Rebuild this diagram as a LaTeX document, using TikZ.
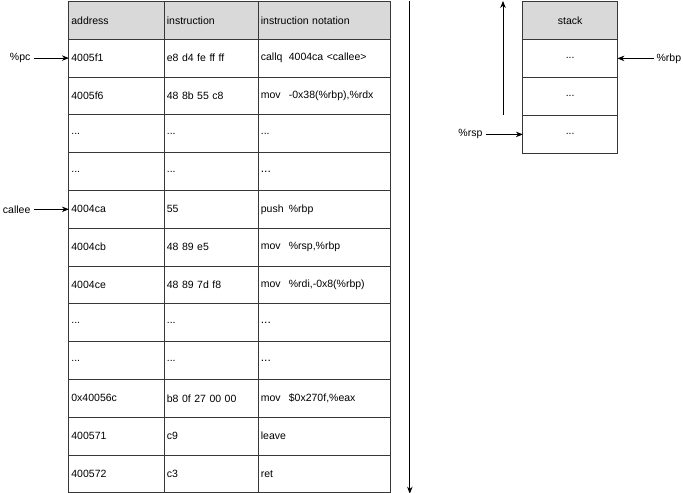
\documentclass[tikz,border=0pt]{standalone}
\usepackage{fontspec}
\setmainfont{Liberation Sans}
\usetikzlibrary{arrows.meta,positioning,matrix}
\definecolor{hdrgray}{RGB}{217,217,217}
\definecolor{gridline}{RGB}{55,55,55}
\newcommand{\asm}[2]{\makebox[28bp][l]{#1}#2}

\begin{document}
\begin{tikzpicture}[x=1bp, y=-1bp, font=\fontsize{10.5bp}{12bp}\selectfont,
		CellStyle/.style={draw=gridline, line width=0.9bp, minimum height=37.8bp, inner xsep=2.5bp, inner ysep=0pt, outer sep=0pt, align=left, anchor=center},
		ptr/.style={-{Stealth[length=7bp,width=5.5bp]}, line width=0.8bp},
		ampersand replacement=\&]
	\useasboundingbox (0,0) rectangle (683,493);
	\matrix (code) [matrix of nodes, nodes={CellStyle}, inner sep=0pt, line width=0.9bp, column sep=-\pgflinewidth, row sep=-\pgflinewidth,
		column 1/.style={nodes={text width=90.5bp}}, column 2/.style={nodes={text width=89bp}}, column 3/.style={nodes={text width=127.5bp}},
		row 1/.style={nodes={fill=hdrgray}}, anchor=north west] at (68,0.5) {%
		address \& instruction \& instruction notation\\
		4005f1 \& e8 d4 fe ff ff \& \asm{callq}{4004ca <callee>}\\
		4005f6 \& 48 8b 55 c8 \& \asm{mov}{-0x38(\%rbp),\%rdx}\\
		... \& ... \& ...\\
		... \& ... \& {\large ...}\\
		4004ca \& 55 \& \asm{push}{\%rbp}\\
		4004cb \& 48 89 e5 \& \asm{mov}{\%rsp,\%rbp}\\
		4004ce \& 48 89 7d f8 \& \asm{mov}{\%rdi,-0x8(\%rbp)}\\
		... \& ... \& {\large ...}\\
		... \& ... \& {\large ...}\\
		0x40056c \& b8 0f 27 00 00 \& \asm{mov}{\$0x270f,\%eax}\\
		400571 \& c9 \& leave\\
		400572 \& c3 \& ret\\
	};
	\matrix (stack) [matrix of nodes, nodes={CellStyle, align=center, text width=89.5bp, minimum height=38bp}, inner sep=0pt, line width=0.9bp,
		row sep=-\pgflinewidth, row 1/.style={nodes={fill=hdrgray}}, anchor=north west] at (522,0.5) {%
		stack\\
		...\\
		...\\
		...\\
	};
	\node (pc) [left=35bp of code-2-1.west] {\%pc};
	\node (callee) [left=35bp of code-6-1.west] {callee};
	\node (rbp) [right=37bp of stack-2-1.east, inner xsep=2bp] {\%rbp};
	\node (rsp) [left=37bp of stack-4-1.west] {\%rsp};
	\draw[ptr] (pc) -- (code-2-1.west);
	\draw[ptr] (callee) -- (code-6-1.west);
	\draw[ptr] (rbp) -- (stack-2-1.east);
	\draw[ptr] (rsp) -- (stack-4-1.west);
	% direction of execution and of stack growth
	\coordinate (flowtop) at ([xshift=18bp,yshift=-0.5bp]code.north east);
	\coordinate (flowbot) at ([xshift=18bp]code.south east);
	\draw[ptr] (flowtop) -- (flowbot);
	\coordinate (growbot) at (503,115);
	\coordinate (growtop) at (503,1);
	\draw[ptr] (growbot) -- (growtop);
\end{tikzpicture}
\end{document}
